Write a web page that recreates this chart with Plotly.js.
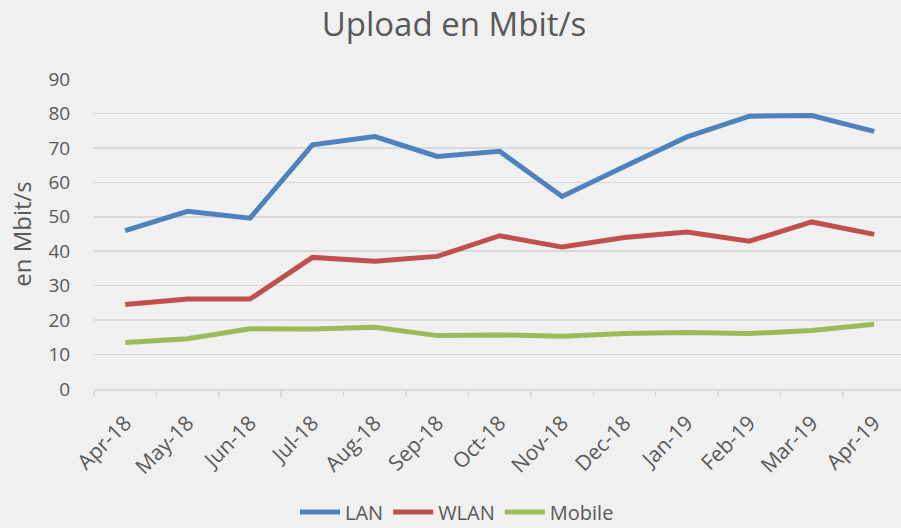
<!DOCTYPE html>
<html>
<head>
<meta charset="utf-8">
<script src="https://cdn.plot.ly/plotly-3.0.1.min.js"></script>
<style>html,body{margin:0;padding:0;background:#f0f0f0;overflow:hidden;}</style>
</head>
<body>
<div id="chart" style="width:901px;height:528px;"></div>
<script>
const months = ["Apr-18","May-18","Jun-18","Jul-18","Aug-18","Sep-18","Oct-18","Nov-18","Dec-18","Jan-19","Feb-19","Mar-19","Apr-19"];
const lan = [46.0, 51.6, 49.6, 70.9, 73.3, 67.5, 69.0, 55.9, 64.6, 73.2, 79.2, 79.4, 74.8];
const wlan = [24.5, 26.1, 26.1, 38.2, 37.1, 38.5, 44.5, 41.2, 44.0, 45.6, 42.9, 48.5, 44.9];
const mobile = [13.5, 14.6, 17.5, 17.4, 17.9, 15.5, 15.7, 15.3, 16.1, 16.4, 16.1, 17.0, 18.8];
const yTicks = [0,10,20,30,40,50,60,70,80,90];

const font = "Open Sans, Noto Sans, sans-serif";
const traces = [
  {name:"LAN", x:months, y:lan, color:"#4f81bd"},
  {name:"WLAN", x:months, y:wlan, color:"#c0504d"},
  {name:"Mobile", x:months, y:mobile, color:"#9bbb59"}
].map(s => ({type:"scatter", mode:"lines", name:s.name, x:s.x, y:s.y,
  line:{color:s.color, width:5}, hoverinfo:"x+y+name"}));

const layout = {
  width:901, height:528,
  paper_bgcolor:"#f0f0f0", plot_bgcolor:"#f0f0f0",
  margin:{l:94, r:0, t:79, b:139},
  title:{text:"Upload en Mbit/s", x:454/901, xref:"container", xanchor:"center",
    y:1-24/528, yref:"container", yanchor:"middle",
    font:{family:font, size:33, color:"#595959"}},
  font:{family:font, color:"#595959"},
  xaxis:{type:"category", range:[-0.5, 12.43], tickson:"boundaries", automargin:false,
    ticks:"outside", ticklen:6, tickcolor:"#d9d9d9", tickwidth:1.5,
    showline:true, linecolor:"#d9d9d9", linewidth:1.5, ticklabelstandoff:12,
    showgrid:false, tickangle:-45, tickfont:{size:21, color:"#595959"}},
  yaxis:{range:[0,90], tickvals:yTicks, ticktext:yTicks.map(String), automargin:false,
    showgrid:true, gridcolor:"#d9d9d9", gridwidth:1.5, zeroline:false,
    showline:false, ticks:"outside", ticklen:19, tickcolor:"rgba(0,0,0,0)",
    tickfont:{size:19, color:"#595959"},
    title:{text:"en Mbit/s", standoff:10, font:{size:24, color:"#595959"}}},
  legend:{orientation:"h", x:457/901, xref:"container", xanchor:"center",
    y:(528-512)/528, yref:"container", yanchor:"middle",
    font:{size:20, color:"#595959"}, bgcolor:"rgba(0,0,0,0)", itemwidth:40},
  showlegend:true
};
Plotly.newPlot("chart", traces, layout, {displayModeBar:false, staticPlot:true});
</script>
</body>
</html>
